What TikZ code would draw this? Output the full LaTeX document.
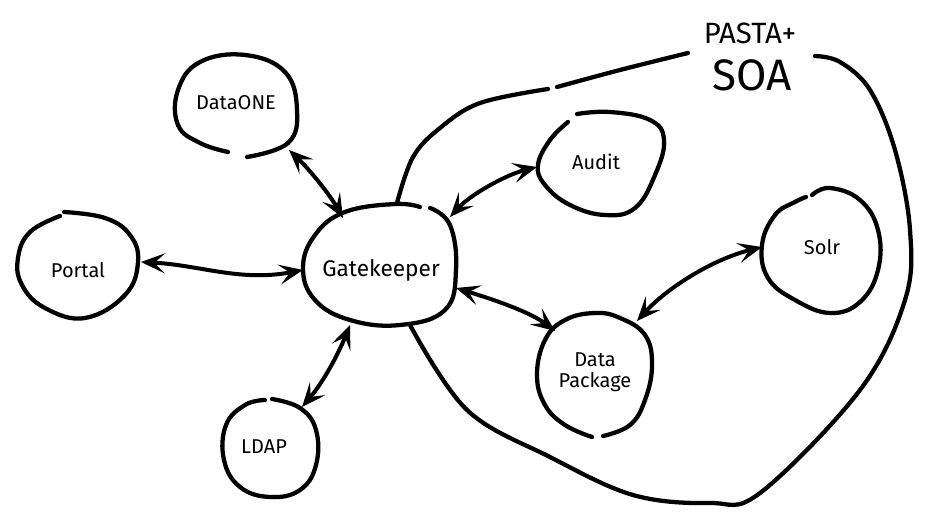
\documentclass[tikz,border=0pt]{standalone}
\usepackage{fontspec}
\setmainfont{Fira Sans}
\usetikzlibrary{arrows.meta}
\begin{document}
\begin{tikzpicture}[x=0.75pt,y=-0.75pt,
  blob/.style={line width=3.2pt,line cap=round,line join=round},
  link/.style={line width=3pt,{Stealth[length=18pt,width=15pt,inset=8pt]}-{Stealth[length=18pt,width=15pt,inset=8pt]}},
  lbl/.style={font=\fontsize{15}{16}\selectfont,align=center,inner sep=0pt}]
\useasboundingbox (0,0) rectangle (930,513);
% PASTA+SOA boundary
\draw[blob] plot[smooth,tension=0.6] coordinates {(410,325) (467,410) (550,457) (633,495) (710,503) (760,493) (860,390) (905,300) (910,230) (895,150) (870,90) (840,62) (815,56)};
\draw[blob] plot[smooth,tension=0.6] coordinates {(688,53) (620,70) (557,87)};
\draw[blob] plot[smooth,tension=0.6] coordinates {(548,89) (480,103) (440,128) (413,157) (397,203)};
\node[inner sep=0pt,font=\fontsize{22}{24}\selectfont] (pasta) at (750,33) {PASTA+};
\node[inner sep=0pt,font=\fontsize{33}{36}\selectfont] (soa) at (752,75) {SOA};
% Gatekeeper
\draw[blob] plot[smooth,tension=0.7] coordinates {(420,207) (395,204) (345,212) (315,235) (303,268) (315,300) (350,320) (400,325) (445,310) (456,270) (450,225) (430,208)};
\node[lbl,font=\fontsize{17}{19}\selectfont] (gate) at (381,270) {Gatekeeper};
% DataONE
\draw[blob] plot[smooth,tension=0.7] coordinates {(247,157) (288,143) (297,110) (285,72) (245,55) (200,62) (178,90) (178,125) (200,143) (228,152)};
\node[lbl] (dataone) at (236,103) {DataONE};
% Portal
\draw[blob] plot[smooth,tension=0.7] coordinates {(64,212) (105,218) (130,235) (138,262) (125,295) (85,318) (45,308) (22,285) (18,258) (30,232) (60,216)};
\node[lbl] (portal) at (78,270) {Portal};
% LDAP
\draw[blob] plot[smooth,tension=0.7] coordinates {(272,399) (300,408) (316,430) (316,465) (300,490) (270,497) (240,487) (224,460) (226,425) (245,405) (265,400)};
\node[lbl] (ldap) at (264,447) {LDAP};
% Audit
\draw[blob] plot[smooth,tension=0.7] coordinates {(577,114) (610,112) (650,120) (664,140) (655,175) (635,208) (605,215) (570,205) (545,185) (538,165) (550,140) (568,122)};
\node[lbl] (audit) at (596,162) {Audit};
% Solr
\draw[blob] plot[smooth,tension=0.7] coordinates {(812,195) (830,188) (860,200) (878,230) (878,270) (860,302) (830,313) (795,300) (768,278) (762,245) (775,215) (795,202) (806,197)};
\node[lbl] (solr) at (822,247) {Solr};
% Data Package
\draw[blob] plot[smooth,tension=0.7] coordinates {(603,436) (630,425) (645,400) (652,365) (645,335) (620,318) (595,313) (565,320) (545,340) (537,375) (545,405) (565,425) (592,437)};
\node[lbl] (dpkg) at (595,372) {Data\\Package};
% connector end points
\coordinate (d1) at (289,150); \coordinate (g1) at (343,218);
\coordinate (p1) at (141,262); \coordinate (g2) at (303,270);
\coordinate (l1) at (302,407); \coordinate (g3) at (350,325);
\coordinate (a1) at (537,167); \coordinate (g4) at (450,217);
\coordinate (g5) at (456,288); \coordinate (k1) at (555,331);
\coordinate (s1) at (762,247); \coordinate (k2) at (637,321);
\draw[link] (d1) .. controls (310,170) and (330,195) .. (g1);
\draw[link] (p1) .. controls (200,265) and (240,282) .. (g2);
\draw[link] (l1) .. controls (325,380) and (340,350) .. (g3);
\draw[link] (a1) .. controls (505,175) and (470,195) .. (g4);
\draw[link] (g5) .. controls (495,300) and (530,312) .. (k1);
\draw[link] (s1) .. controls (710,260) and (665,290) .. (k2);
\end{tikzpicture}
\end{document}
